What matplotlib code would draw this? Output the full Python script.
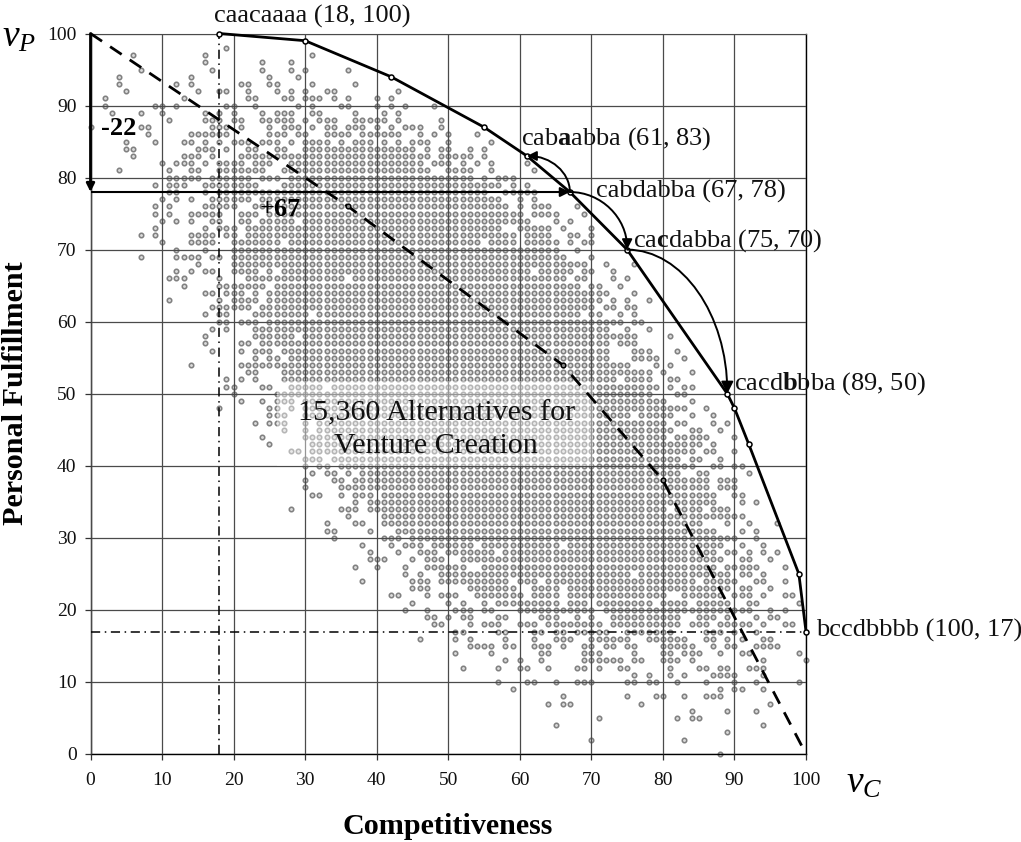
import matplotlib
matplotlib.use('Agg')
import matplotlib.pyplot as plt
from matplotlib.patches import FancyArrowPatch, Rectangle
from matplotlib.path import Path

plt.rcParams['font.family'] = ['Liberation Serif', 'DejaVu Serif']
plt.rcParams['mathtext.fontset'] = 'custom'
plt.rcParams['mathtext.rm'] = 'Liberation Serif'
plt.rcParams['mathtext.it'] = 'Liberation Serif:italic'
plt.rcParams['mathtext.bf'] = 'Liberation Serif:bold'

# ---------------------------------------------------------------------------
# Data
# ---------------------------------------------------------------------------

# Alternatives, one row per v_P value; "24-28" means every v_C from 24 to 28
alt_y = list(range(98, -1, -1))
alt_x = [
    "19",                                                          # 98
    "6 16 31",
    "16 24 28",
    "7 17 24 28 30 36",
    "4 14 25 29",
    "4 12 14 21 22 25 26 31 37",
    "5 15 18 19 22 26 28 30 33 34 43",
    "2 13 22 23 27 28 30-32 34 36 40 42",
    "2 9 10 12 19 20 23 29 31 35 36 40 42 44 48",                  # 90
    "3 7 10 16 18 20 24 26-28 31 32 37 41 43",
    "11 16-18 20 21 24-28 30 32-34 37-41 43 49",
    "0 7 8 17-19 21 25 27-29 31 33 34 36-38 40 42 44-46 49",
    "8 14-19 25-27 29 30 33-36 38-43 46 48 50 54",
    "5 9 13 14 16 18 20-22 24-26 28 30-33 35 37-39 41 43 45-47 50 56",
    "5 6 15-17 19 22 23 26 27 30-45 47 49 50 53 55",
    "6 13-15 17 21-47 49-53 55",
    "10 12-14 16 18-21 23-25 28-46 48-50 52 54 56 61",
    "4 11 14 15 18-24 27-47 50-53 56 62",
    "11-15 17-22 24-26 28-53 55 57-59",                            # 80
    "9 11-13 16-23 27-57 59 61",
    "11 12 16 18-55 58-62",
    "10 12 14 17-22 24-57 60 62",
    "9 11 16-20 23-58 60 62-64 68",
    "9 11 14-18 21-23 25-60 62-65 69",
    "10 12 14 17 18 21 22 24-28 30-61 65 67",
    "9 16 18-20 22-57 60-64 66 70",
    "7 9 14-17 19 20 22-59 61-64 67 68 70",
    "10 14-17 20-26 28-54 56-59 61-65 67 69 70",
    "12 16 20-65 68",                                              # 70
    "7 12-15 17 18 20-66 70",
    "15 20-69 72 76",
    "12 14 16 17 20-23 25 27-61 63-67 69 70 73",
    "11-13 18 22-35 37-66 68 69 73 75",
    "13 18-24 26-68 70 71 74",
    "16 17 19-21 23 25-72 76",
    "11 18 20-23 25-71 73 75 78",
    "17-22 24-70 72 73 75 76",
    "16 18 19 23-30 32-68 70 71 74 76",
    "18 19 21-23 25-74 76 77",                                     # 60
    "17 19 23-72 75 78",
    "16 23-28 30-76 81",
    "16 21 22 24-72 74-76",
    "17 21 23-25 27-72 76-78 82",
    "23 25 26 28-72 76-79 83",
    "14 21-75 79 81",
    "22 23 27-78 80 84",
    "19 21 23 27-73 75-78 81 82",
    "19 20 24 25 28-32 34-79 81 83 84",
    "20 26-78 82 83",                                              # 50
    "21 24 26-28 30-80 84",
    "18 25 26 28 30-83 86",
    "25-27 30-75 77-81 84 87",
    "23 25-27 30 32-80 82 83 87 89",
    "27 30 32-81 84 85 88",
    "24 30-80 82-86 90",
    "25 31-85 87",
    "28 29 31-84 86 87 90",
    "30-32 34-82 84 85 88",
    "30 32 33 35-84 87 88 90 91",                                  # 40
    "31 33 34 36 38-82 85 86 92",
    "30 34 35 37-86 88-90",
    "30 35-86 88-90",
    "31 32 35 37-39 41-87 90 91",
    "37 39-87 91 93",
    "28 35-37 39-80 82-85 87-89",
    "36 41-91",
    "33 37 38 41-85 89 92 96",
    "33 34 39 43-87 91 93",
    "34 41-43 45-90 93",                                           # 30
    "38 42 44-46 48-53 55-65 67-88 91 94",
    "39 43 46-48 50-56 58-87 89 90 92 94 96",
    "39-41 45 47-49 52-88 91 92 95",
    "37 40 44 47-52 55-87 89-93 97",
    "44 46 49-75 77-89 91 92 94",
    "38 45-47 49-58 60-62 64-84 86-90 93 94 97",
    "45-47 53-59 62-65 67-89 91 92 95",
    "42 43 47 49-51 54-60 62-65 67-80 83-88 90-92 94 97 98",
    "45 50 52 55 57-65 67-69 71-78 80-83 85-89 92 93 99",
    "44 47 51-53 55 56 60-70 72-92 95 97",                         # 20
    "47 48 50 52 53 57 58 63-65 68 70 73-82 85-87 89 93 95 96",
    "48 49 53 55-57 60-62 64-71 73-82 84-86 88-92 94 97 98",
    "51 52 57 58 62 63 65 66 68-72 75-81 86-88 90 93",
    "46 51 53 58 62 65-67 70-75 78-83 86 87 89 91 94 95",
    "53-56 58 59 62-64 66 69 70 72 73 75 76 80-84 87 89 90 93-96",
    "51 56 63 64 69-71 76 80 81 83-85 88 91 92 99",
    "58 60 63 69-74 76 77 80-82 84 94 100",
    "52 57 60 61 64 68 69 71 74 75 81 85 86 88 89 92-94",
    "76 78 81 83 87-90 94",
    "57 61 62 65 68-70 75 76 78 79 82 86 90 93 99",                # 10
    "59 88 90 91 94",
    "66 75 79 80 83 86-88",
    "64 66 67 77 95",
    "84 89 93",
    "71 82 84 85",
    "65 94",
    "89",
    "70 83",
    "",
    "88",                                                          # 0
]

frontier_c = [18, 30, 42, 55, 61, 67, 75, 89, 90, 92, 99, 100]
frontier_p = [100, 99, 94, 87, 83, 78, 70, 50, 48, 43, 25, 17]

dashed_c = [0, 36, 66, 80, 100]
dashed_p = [100, 76, 54, 38, 0]

labels = [r'caacaaaa (18, 100)', r'cab$\mathbf{a}$abba (61, 83)',
          r'cabdabba (67, 78)', r'ca$\mathbf{c}$dabba (75, 70)',
          r'cacd$\mathbf{b}$bba (89, 50)', r'bccdbbbb (100, 17)']
label_c = [18, 61, 67, 75, 89, 100]
label_p = [100, 83, 78, 70, 50, 17]
label_dx = [-5, -6, 26, 6, 7, 10]
label_dy = [17, 17, 1, 9, 10, 1]

ticks = list(range(0, 101, 10))


def parse_row(row):
    xs = []
    for part in row.split():
        if '-' in part:
            a, b = part.split('-')
            xs.extend(range(int(a), int(b) + 1))
        else:
            xs.append(int(part))
    return xs


def quarter_arc(start, end, horizontal_first=True):
    """Elliptical quarter from start to end as one cubic Bezier."""
    k = 0.55
    x0, y0 = start
    x1, y1 = end
    if horizontal_first:
        c1 = (x0 + k * (x1 - x0), y0)
        c2 = (x1, y1 - k * (y1 - y0))
    else:
        c1 = (x0, y0 + k * (y1 - y0))
        c2 = (x1 - k * (x1 - x0), y1)
    return Path([start, c1, c2, end],
                [Path.MOVETO, Path.CURVE4, Path.CURVE4, Path.CURVE4])


# ---------------------------------------------------------------------------
# Figure
# ---------------------------------------------------------------------------

W, H = 1021, 842
fig = plt.figure(figsize=(W / 100, H / 100), dpi=100)
ax = fig.add_axes([90.5 / W, (H - 754) / H, (806 - 90.5) / W, (754 - 33.5) / H])
ax.set_xlim(0, 100)
ax.set_ylim(0, 100)

pts_x, pts_y = [], []
for y, row in zip(alt_y, alt_x):
    xs = parse_row(row)
    pts_x += xs
    pts_y += [y] * len(xs)
ax.plot(pts_x, pts_y, ls='none', marker='o', ms=3.2, mew=1.15, mec='#808080',
        mfc='#dcdcdc', clip_on=False, zorder=2)

ax.set_xticks(ticks)
ax.set_yticks(ticks)
ax.grid(True, color='#4a4a4a', lw=0.9, zorder=3)
ax.set_axisbelow(False)
for line in ax.get_xgridlines() + ax.get_ygridlines():
    line.set_zorder(3)
ax.tick_params(length=4, width=0.9, color='#333333', labelsize=14, pad=6,
               labelcolor='#111111')
ax.tick_params(axis='x', pad=9)
for side in ['left', 'right', 'bottom']:
    ax.spines[side].set_linewidth(1.0)
ax.spines['top'].set_color('#666666')

# washed-out strip behind the centre text
ax.add_patch(Rectangle((26, 40), 44.2, 11.8, fc='white', ec='none', alpha=0.42,
                       zorder=4))
ax.text(48.3, 45, '15,360 Alternatives for\nVenture Creation', fontsize=21.6,
        ha='center', va='center', linespacing=1.3, color='#111111', zorder=9)

# reference lines through the extreme points
ax.plot([18, 18], [0, 100], color='k', lw=1.1, ls=(0, (6, 3, 1, 3)), zorder=5)
ax.plot([0, 100], [17, 17], color='k', lw=1.1, ls=(0, (6, 3, 1, 3)), zorder=5)

ax.plot(dashed_c, dashed_p, color='k', lw=2, ls=(0, (5, 3.5)), zorder=6,
        clip_on=False)
ax.plot(dashed_c[1:-1], dashed_p[1:-1], ls='none', marker='o', ms=3.3, mew=1,
        mec='k', mfc='#888888', zorder=7)

ax.plot(frontier_c, frontier_p, color='k', lw=2, zorder=6, clip_on=False)
ax.plot(frontier_c, frontier_p, ls='none', marker='o', ms=3.6, mew=1.1, mec='k',
        mfc='white', zorder=7, clip_on=False)

# trade-off arrows
arrow_kw = dict(arrowstyle='-|>', color='k', shrinkA=0, shrinkB=0, zorder=8)
ax.add_patch(FancyArrowPatch((0, 100), (0, 78), lw=2, mutation_scale=12,
                             clip_on=False, **arrow_kw))
ax.add_patch(FancyArrowPatch((0, 78), (67, 78), lw=1.5, mutation_scale=14,
                             **arrow_kw))
ax.add_patch(FancyArrowPatch(path=quarter_arc((67, 78), (61, 83), False), lw=1.4,
                             mutation_scale=14, **arrow_kw))
ax.add_patch(FancyArrowPatch(path=quarter_arc((67, 78), (75, 70)), lw=1.4,
                             mutation_scale=15, **arrow_kw))
ax.add_patch(FancyArrowPatch(path=quarter_arc((75, 70), (89, 50)), lw=1.4,
                             mutation_scale=18, **arrow_kw))

ax.text(1.4, 86.8, '-22', fontsize=19, fontweight='bold', ha='left', va='center',
        zorder=9)
ax.text(23.7, 75.6, '+67', fontsize=19, fontweight='bold', ha='left', va='center',
        zorder=9)

for text, c, p, dx, dy in zip(labels, label_c, label_p, label_dx, label_dy):
    ax.annotate(text, (c, p), xytext=(dx, dy), textcoords='offset pixels',
                fontsize=19, ha='left', va='center', color='#111111',
                annotation_clip=False, zorder=9)

fig.text(447.5 / W, 1 - 827 / H, 'Competitiveness', fontsize=21.7, fontweight='bold',
         ha='center', va='center')
fig.text(15.5 / W, 1 - 393.5 / H, 'Personal Fulfillment', fontsize=21.7,
         fontweight='bold', rotation=90, ha='center', va='center')
fig.text(19 / W, 1 - 37 / H, r'$v_P$', fontsize=27, ha='center', va='center')
fig.text(864 / W, 1 - 783 / H, r'$v_C$', fontsize=27, ha='center', va='center')

fig.savefig('out.png', dpi=100)
